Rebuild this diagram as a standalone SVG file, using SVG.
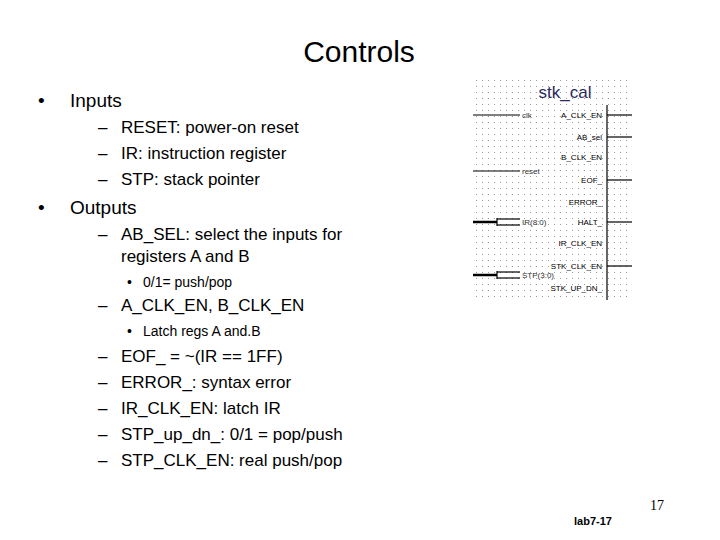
<svg xmlns="http://www.w3.org/2000/svg" width="720" height="540" viewBox="0 0 720 540">
<style>
text{font-family:"Liberation Sans",Arial,sans-serif;fill:#000}
.l1{font-size:19px}.l2{font-size:17px}.l3{font-size:14px}
.pl{font-size:8px;fill:#333}
.w{stroke:#000;stroke-width:1.2}
.b{stroke:#000;stroke-width:2.5}
</style>
<defs><pattern id="dots" width="6" height="6" patternUnits="userSpaceOnUse"><rect x="2" y="2" width="1" height="1" fill="#999"/></pattern></defs>
<rect width="720" height="540" fill="#fff"/>
<text x="359" y="62" font-size="30" text-anchor="middle">Controls</text>
<g id="text">
<text class="l1" x="38" y="107">•</text><text class="l1" x="70" y="107">Inputs</text>
<text class="l2" x="98" y="133">–</text><text class="l2" x="121" y="133">RESET: power-on reset</text>
<text class="l2" x="98" y="159">–</text><text class="l2" x="121" y="159">IR: instruction register</text>
<text class="l2" x="98" y="185">–</text><text class="l2" x="121" y="185">STP: stack pointer</text>
<text class="l1" x="38" y="214">•</text><text class="l1" x="70" y="214">Outputs</text>
<text class="l2" x="98" y="240">–</text><text class="l2" x="121" y="240">AB_SEL: select the inputs for</text>
<text class="l2" x="121" y="262">registers A and B</text>
<text class="l3" x="127" y="287">•</text><text class="l3" x="143" y="287">0/1= push/pop</text>
<text class="l2" x="98" y="311">–</text><text class="l2" x="121" y="311">A_CLK_EN, B_CLK_EN</text>
<text class="l3" x="127" y="336">•</text><text class="l3" x="143" y="336">Latch regs A and.B</text>
<text class="l2" x="98" y="362">–</text><text class="l2" x="121" y="362">EOF_ = ~(IR == 1FF)</text>
<text class="l2" x="98" y="388">–</text><text class="l2" x="121" y="388">ERROR_: syntax error</text>
<text class="l2" x="98" y="414">–</text><text class="l2" x="121" y="414">IR_CLK_EN: latch IR</text>
<text class="l2" x="98" y="440">–</text><text class="l2" x="121" y="440">STP_up_dn_: 0/1 = pop/push</text>
<text class="l2" x="98" y="466">–</text><text class="l2" x="121" y="466">STP_CLK_EN: real push/pop</text>
</g>
<g id="stk_cal">
<rect x="472" y="78" width="160" height="222" fill="url(#dots)"/>
<text x="565" y="98" font-size="17" text-anchor="middle" style="fill:#2a2a60">stk_cal</text>
<line class="w" x1="607" y1="105" x2="607" y2="300"/>
<line class="w" x1="473" y1="115" x2="520" y2="115"/>
<line class="w" x1="473" y1="171" x2="520" y2="171"/>
<line class="b" x1="473" y1="222" x2="497" y2="222"/><line class="w" x1="497" y1="219" x2="520" y2="219"/><line class="w" x1="497" y1="225" x2="520" y2="225"/><line class="w" x1="497" y1="218" x2="497" y2="226"/>
<line class="b" x1="473" y1="275" x2="497" y2="275"/><line class="w" x1="497" y1="272" x2="520" y2="272"/><line class="w" x1="497" y1="278" x2="520" y2="278"/><line class="w" x1="497" y1="271" x2="497" y2="279"/>
<text class="pl" x="522" y="118">clk</text>
<text class="pl" x="522" y="174">reset</text>
<text class="pl" x="522" y="225">IR(8:0)</text>
<text class="pl" x="522" y="278">STP(3:0)</text>
<g class="pl" text-anchor="end">
<text x="602" y="118">A_CLK_EN</text>
<text x="602" y="140">AB_sel</text>
<text x="602" y="160">B_CLK_EN</text>
<text x="602" y="183">EOF_</text>
<text x="602" y="205">ERROR_</text>
<text x="602" y="225">HALT_</text>
<text x="602" y="246">IR_CLK_EN</text>
<text x="602" y="269">STK_CLK_EN</text>
<text x="602" y="291">STK_UP_DN_</text>
</g>
<line class="w" x1="607" y1="115" x2="632" y2="115"/>
<line class="w" x1="607" y1="137" x2="632" y2="137"/>
<line class="w" x1="607" y1="180" x2="632" y2="180"/>
<line class="w" x1="607" y1="222" x2="632" y2="222"/>
<line class="w" x1="607" y1="266" x2="632" y2="266"/>
</g>
<text x="650" y="510" font-size="14" style="font-family:'Liberation Serif',serif">17</text>
<text x="574" y="525" font-size="11" font-weight="bold">lab7-17</text>
</svg>
